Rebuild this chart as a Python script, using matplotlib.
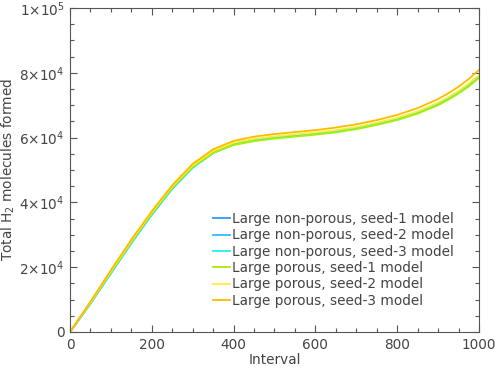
import matplotlib

matplotlib.use("Agg")
import matplotlib.pyplot as plt
from matplotlib.ticker import FixedLocator, MultipleLocator, FuncFormatter

# interval grid and total H2 formed, in thousands of molecules
interval = [0, 50, 100, 150, 200, 250, 300, 350, 400, 450, 500,
            550, 600, 650, 700, 750, 800, 850, 900, 925, 950, 975, 1000]

np_seed1 = [0, 8.8, 18.2, 27.5, 36.3, 44.3, 50.8, 55.3, 57.9, 59.2, 60.0,
            60.6, 61.2, 61.9, 62.9, 64.2, 65.7, 67.7, 70.4, 72.1, 74.0, 76.2, 78.8]
np_seed2 = [0, 8.9, 18.3, 27.6, 36.4, 44.4, 50.9, 55.4, 58.0, 59.3, 60.1,
            60.7, 61.3, 62.0, 63.0, 64.3, 65.8, 67.8, 70.5, 72.2, 74.2, 76.4, 79.0]
np_seed3 = [0, 8.8, 18.1, 27.4, 36.2, 44.2, 50.7, 55.3, 57.9, 59.2, 60.0,
            60.6, 61.2, 61.9, 62.9, 64.2, 65.7, 67.7, 70.4, 72.1, 74.0, 76.3, 78.9]
p_seed1 = [0, 9.0, 18.5, 27.8, 36.6, 44.6, 51.0, 55.3, 57.7, 58.9, 59.7,
           60.3, 60.9, 61.6, 62.6, 63.9, 65.4, 67.4, 70.0, 71.7, 73.6, 75.8, 78.4]
p_seed2 = [0, 9.2, 18.8, 28.2, 37.0, 45.0, 51.5, 55.9, 58.4, 59.6, 60.4,
           61.0, 61.6, 62.3, 63.3, 64.6, 66.1, 68.1, 70.8, 72.5, 74.4, 76.7, 79.3]
p_seed3 = [0, 9.4, 19.1, 28.5, 37.3, 45.3, 51.9, 56.4, 59.0, 60.3, 61.1,
           61.7, 62.3, 63.1, 64.1, 65.4, 67.0, 69.1, 71.9, 73.7, 75.7, 78.1, 80.9]

series = [
    ("Large non-porous, seed-1 model", np_seed1, "#3399ff"),
    ("Large non-porous, seed-2 model", np_seed2, "#33bbff"),
    ("Large non-porous, seed-3 model", np_seed3, "#22eeee"),
    ("Large porous, seed-1 model", p_seed1, "#aaee00"),
    ("Large porous, seed-2 model", p_seed2, "#ffee33"),
    ("Large porous, seed-3 model", p_seed3, "#ffbb00"),
]

ytick_vals = [0, 2e4, 4e4, 6e4, 8e4, 1e5]
ytick_text = ["0", r"$2{\times}10^4$", r"$4{\times}10^4$", r"$6{\times}10^4$",
              r"$8{\times}10^4$", r"$1{\times}10^5$"]

grey = "#555555"
text_grey = "#444444"
fs = 9.8
plt.rcParams["font.family"] = ["DejaVu Sans"]
plt.rcParams["mathtext.fontset"] = "dejavusans"

fig = plt.figure(figsize=(4.98, 3.74), dpi=100)
ax = fig.add_axes([0.1406, 0.1123, 0.8212, 0.8663])

for label, vals, color in series:
    ax.plot(interval, [v * 1000 for v in vals], color=color, lw=1.3, label=label)

ax.set_xlim(0, 1000)
ax.set_ylim(0, 1e5)
ax.xaxis.set_major_locator(MultipleLocator(200))
ax.xaxis.set_minor_locator(MultipleLocator(50))
ax.yaxis.set_major_locator(FixedLocator(ytick_vals))
ax.yaxis.set_major_formatter(FuncFormatter(
    lambda v, pos: ytick_text[pos] if pos is not None and pos < len(ytick_text) else ""))
ax.yaxis.set_minor_locator(MultipleLocator(5000))

ax.tick_params(which="both", direction="in", top=True, right=True,
               colors=grey, labelcolor=text_grey, labelsize=fs, width=0.8)
ax.tick_params(which="major", length=5, pad=4)
ax.tick_params(which="minor", length=3)
for sp in ax.spines.values():
    sp.set_color(grey)
    sp.set_linewidth(0.8)

ax.set_xlabel("Interval", color=text_grey, fontsize=fs, labelpad=1)
ax.set_ylabel(r"Total H$_2$ molecules formed", color=text_grey, fontsize=fs, labelpad=2)

ax.legend(loc="lower left", bbox_to_anchor=(0.35, 0.075), frameon=False,
          fontsize=fs, handlelength=1.25, handletextpad=0.15,
          labelspacing=0.17, borderpad=0, borderaxespad=0,
          labelcolor=text_grey)

fig.savefig("out.png", dpi=100)
plt.close(fig)
